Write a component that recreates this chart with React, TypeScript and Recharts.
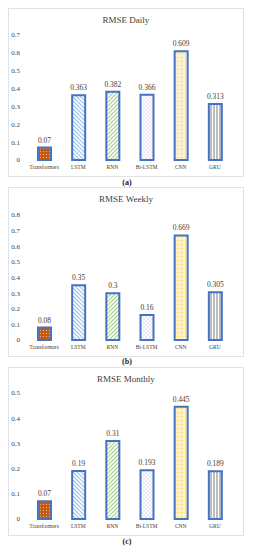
import React from "react";
import { BarChart, Bar, XAxis, YAxis, Cell, LabelList } from "recharts";

const models = ["Transformers", "LSTM", "RNN", "Bi-LSTM", "CNN", "GRU"];
const dailyRmse = [0.07, 0.363, 0.382, 0.366, 0.609, 0.313];
const weeklyRmse = [0.08, 0.35, 0.3, 0.16, 0.669, 0.305];
const monthlyRmse = [0.07, 0.19, 0.31, 0.193, 0.445, 0.189];
const dailyTicks = [0, 0.1, 0.2, 0.3, 0.4, 0.5, 0.6, 0.7];
const weeklyTicks = [0, 0.1, 0.2, 0.3, 0.4, 0.5, 0.6, 0.7, 0.8];
const monthlyTicks = [0, 0.1, 0.2, 0.3, 0.4, 0.5];

const FONT = "'Liberation Serif', 'DejaVu Serif', serif";
const BLUE = "#4472C4";
const TEXT = "#404040";
const patternIds = ["p-orange", "p-lstm", "p-rnn", "p-bilstm", "p-cnn", "p-gru"];

const Patterns = () => (
  <svg width={0} height={0} style={{ position: "absolute" }}>
    <defs>
      <pattern id="p-orange" width={3} height={3} patternUnits="userSpaceOnUse">
        <rect width={3} height={3} fill="#C55A11" />
        <rect x={1} y={1} width={1} height={1} fill="#F4B183" />
      </pattern>
      <pattern id="p-lstm" width={4} height={4} patternUnits="userSpaceOnUse">
        <rect width={4} height={4} fill="#fff" />
        <path d="M-1,-1 L5,5 M-1,3 L1,5 M3,-1 L5,1" stroke="#9DC3E6" strokeWidth={1.2} />
      </pattern>
      <pattern id="p-rnn" width={4} height={4} patternUnits="userSpaceOnUse">
        <rect width={4} height={4} fill="#fff" />
        <path d="M-1,5 L5,-1 M-1,1 L1,-1 M3,5 L5,3" stroke="#A9D18E" strokeWidth={1.2} />
      </pattern>
      <pattern id="p-bilstm" width={4} height={4} patternUnits="userSpaceOnUse">
        <rect width={4} height={4} fill="#fff" />
        <circle cx={1} cy={1} r={0.6} fill="#B28CD6" />
        <circle cx={3} cy={3} r={0.6} fill="#B28CD6" />
      </pattern>
      <pattern id="p-cnn" width={4} height={4} patternUnits="userSpaceOnUse">
        <rect width={4} height={4} fill="#FFF5D6" />
        <path d="M0,0.5 L4,0.5 M0.5,0 L0.5,4" stroke="#FFE699" strokeWidth={1} />
      </pattern>
      <pattern id="p-gru" width={3} height={4} patternUnits="userSpaceOnUse">
        <rect width={3} height={4} fill="#fff" />
        <path d="M1,0 L1,4" stroke="#595959" strokeWidth={0.8} />
      </pattern>
    </defs>
  </svg>
);

// plain text label so it doesn't pick up the bar's pattern fill
const ValueLabel = (props: any) => {
  const { x, y, width, value } = props;
  return (
    <text
      x={Number(x) + Number(width) / 2}
      y={Number(y) - 5}
      textAnchor="middle"
      fill={TEXT}
      fontSize={7.5}
      fontFamily={FONT}
    >
      {value}
    </text>
  );
};

interface PanelProps {
  title: string;
  values: number[];
  ticks: number[];
  top: number;
  height: number;
  plotTop: number;
  caption: string;
  captionTop: number;
}

const Panel = ({ title, values, ticks, top, height, plotTop, caption, captionTop }: PanelProps) => {
  const data = models.map((m, i) => ({ name: m, value: values[i] }));
  return (
    <>
      <div
        style={{
          position: "absolute",
          left: 8,
          top,
          width: 236,
          height,
          border: "1px solid #e2e2e2",
          boxSizing: "border-box",
        }}
      >
        <div
          style={{
            position: "absolute",
            top: 6,
            width: "100%",
            textAlign: "center",
            fontFamily: FONT,
            fontSize: 9,
            color: TEXT,
          }}
        >
          {title}
        </div>
        <BarChart
          width={234}
          height={height - 2}
          data={data}
          margin={{ top: plotTop, right: 11, bottom: 0, left: 0 }}
          barCategoryGap={0}
        >
          <XAxis
            dataKey="name"
            interval={0}
            tickLine={false}
            axisLine={false}
            tickSize={0}
            tickMargin={5}
            height={16}
            tick={{ fontSize: 5.5, fontFamily: FONT, fill: TEXT }}
          />
          <YAxis
            domain={[0, ticks[ticks.length - 1]]}
            ticks={ticks}
            width={18}
            tickLine={false}
            axisLine={false}
            tickSize={0}
            tickMargin={7}
            tick={{ fontSize: 7, fontFamily: FONT, fill: TEXT }}
          />
          <Bar dataKey="value" barSize={13} stroke={BLUE} strokeWidth={2} isAnimationActive={false}>
            {data.map((d, i) => (
              <Cell key={d.name} fill={`url(#${patternIds[i]})`} />
            ))}
            <LabelList dataKey="value" content={ValueLabel} />
          </Bar>
        </BarChart>
      </div>
      <div
        style={{
          position: "absolute",
          left: 0,
          top: captionTop,
          width: 254,
          textAlign: "center",
          fontFamily: FONT,
          fontSize: 8,
          fontWeight: "bold",
          color: "#222",
        }}
      >
        {caption}
      </div>
    </>
  );
};

export default function App() {
  return (
    <div style={{ position: "absolute", left: 0, top: 0, width: 254, height: 550, background: "#fff" }}>
      <Patterns />
      <Panel title="RMSE Daily" values={dailyRmse} ticks={dailyTicks} top={8} height={169} plotTop={26} caption="(a)" captionTop={178} />
      <Panel title="RMSE Weekly" values={weeklyRmse} ticks={weeklyTicks} top={187} height={170} plotTop={27} caption="(b)" captionTop={357} />
      <Panel title="RMSE Monthly" values={monthlyRmse} ticks={monthlyTicks} top={367} height={169} plotTop={25} caption="(c)" captionTop={537} />
    </div>
  );
}
